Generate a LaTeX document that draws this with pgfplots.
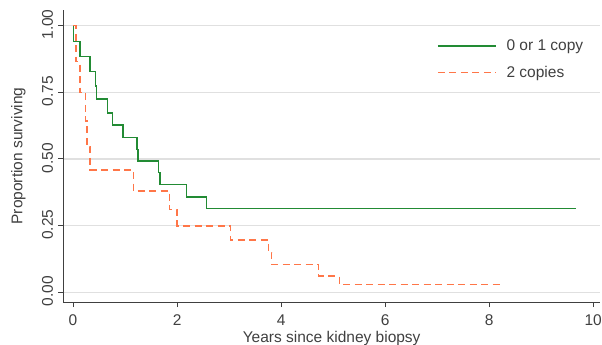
\documentclass[border=0pt]{standalone}
\usepackage{pgfplots}
\pgfplotsset{compat=1.18}
\usepackage{fontspec}
\setmainfont{Liberation Sans}
\definecolor{kmgreen}{RGB}{34,139,52}
\definecolor{kmorange}{RGB}{255,118,72}
\definecolor{txt}{RGB}{64,64,64}
\begin{document}
\fontsize{15.5}{18}\selectfont
\begin{tikzpicture}
\begin{axis}[
  scale only axis, width=536.7pt, height=292pt,
  xmin=-0.187, xmax=10.13, ymin=-0.036, ymax=1.058,
  axis x line*=bottom, axis y line*=left,
  axis line style={txt, line width=0.9pt, -},
  xtick={0,2,4,6,8,10}, ytick={0,0.25,0.5,0.75,1},
  tick align=outside, major tick length=5pt,
  tick style={txt, line width=0.9pt},
  /pgf/number format/assume math mode=true,
  ticklabel style={font=\fontsize{15.5}{18}\selectfont, text=txt},
  xticklabel style={yshift=-2pt},
  yticklabel style={rotate=90, anchor=south, xshift=1pt, /pgf/number format/.cd, fixed, fixed zerofill, precision=2},
  ymajorgrids, grid style={black!12, line width=1.3pt},
  xlabel={Years since kidney biopsy}, ylabel={Proportion surviving},
  every axis x label/.style={at={(rel axis cs:0.5,0)}, anchor=base, yshift=-40pt, font=\fontsize{15.5}{18}\selectfont, text=txt},
  every axis y label/.style={at={(rel axis cs:-0.0838,0.5)}, rotate=90, anchor=center, font=\fontsize{15.5}{18}\selectfont, text=txt},
  legend style={draw=none, fill=none, at={(rel axis cs:0.696,0.906)}, anchor=north west, inner sep=0pt, row sep=9pt, font=\fontsize{15.5}{18}\selectfont, text=txt, nodes={inner sep=2pt}, /tikz/every odd column/.append style={column sep=8pt}},
  legend cell align=left,
  legend image code/.code={\draw[#1] (0pt,0pt) -- (58pt,0pt);},
]
\addplot[const plot mark left, kmgreen, line width=1.5pt] coordinates {
(0,1) (0.01,0.94) (0.13,0.883) (0.33,0.827) (0.43,0.774) (0.45,0.725) (0.66,0.673) (0.76,0.628) (0.96,0.580) (1.23,0.535) (1.25,0.492) (1.64,0.449) (1.67,0.405) (2.18,0.358) (2.57,0.315) (9.67,0.315)
};
\addlegendentry{0 or 1 copy}
\addplot[const plot mark left, kmorange, line width=1.5pt, dash pattern=on 7pt off 4.5pt] coordinates {
(0,1) (0.06,0.865) (0.13,0.749) (0.24,0.642) (0.27,0.546) (0.33,0.459) (1.16,0.380) (1.85,0.311) (2.0,0.249) (3.03,0.196) (3.76,0.15) (3.82,0.105) (4.72,0.061) (5.12,0.030) (8.21,0.030)
};
\addlegendentry{2 copies}
\end{axis}
\pgfresetboundingbox
\path ([xshift=-63.3pt,yshift=-43pt]current axis.south west) rectangle ([xshift=2pt,yshift=10pt]current axis.north east);
\end{tikzpicture}
\end{document}
